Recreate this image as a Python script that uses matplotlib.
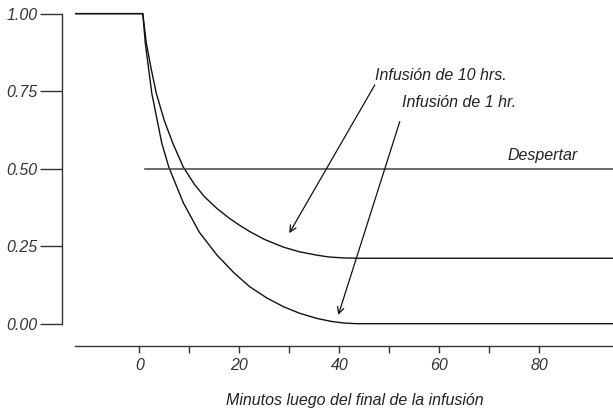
import matplotlib.pyplot as plt

plt.rcParams['font.family'] = ['Liberation Sans', 'DejaVu Sans']
plt.rcParams['font.style'] = 'italic'
plt.rcParams['font.size'] = 11.5

# Curves (minutes, relative concentration)
x_10h = [-12.7, 0.7, 1.4, 2.4, 3.4, 5.0, 6.7, 8.8, 11.0, 13.0, 15.5, 18.0, 20.0,
         22.1, 25.0, 28.8, 32.0, 35.5, 38.0, 41.0, 44.0, 95]
y_10h = [1.0, 1.0, 0.905, 0.82, 0.743, 0.655, 0.582, 0.505, 0.45, 0.41, 0.372,
         0.34, 0.318, 0.297, 0.272, 0.247, 0.232, 0.221, 0.215, 0.212, 0.211, 0.211]

x_1h = [-12.7, 0.7, 1.2, 2.5, 4.5, 5.9, 8.8, 12.0, 15.5, 19.0, 22.1, 25.5, 28.8,
        32.0, 35.5, 38.5, 41.0, 43.5, 95]
y_1h = [1.0, 1.0, 0.905, 0.743, 0.582, 0.505, 0.39, 0.295, 0.222, 0.163, 0.119,
        0.083, 0.055, 0.034, 0.017, 0.007, 0.002, 0.0, 0.0]

x_wake = [1.1, 95]
y_wake = [0.5, 0.5]

x_ticks = [0, 20, 40, 60, 80]
x_minor = [10, 30, 50, 70]
y_ticks = [0.0, 0.25, 0.5, 0.75, 1.0]
y_labels = ['0.00', '0.25', '0.50', '0.75', '1.00']

fig = plt.figure(figsize=(6.13, 4.13), dpi=100)
ax = fig.add_axes([62 / 613, 1 - 346 / 413, 1 - 62 / 613, 346 / 413])

ax.plot(x_10h, y_10h, color='#111111', lw=1.0)
ax.plot(x_1h, y_1h, color='#111111', lw=1.0)
ax.plot(x_wake, y_wake, color='#444444', lw=1.1)

ax.set_xlim(-15.46, 94.74)
ax.set_ylim(-0.072, 1.044)

for s in ['top', 'right']:
    ax.spines[s].set_visible(False)
ax.spines['left'].set_bounds(0, 1)
ax.spines['bottom'].set_bounds(-12.9, 94.74)
for s in ['left', 'bottom']:
    ax.spines[s].set_color('#333333')
    ax.spines[s].set_linewidth(1.0)

ax.set_yticks(y_ticks)
ax.set_yticklabels(y_labels)
ax.set_xticks(x_ticks)
ax.set_xticks(x_minor, minor=True)
ax.tick_params(axis='y', length=16, width=1.0, color='#333333', pad=1.5,
               labelcolor='#333333')
ax.tick_params(axis='x', which='both', length=5, width=1.0, color='#333333',
               pad=3.5, labelcolor='#333333')

ax.text(73.7, 0.528, 'Despertar', color='#222222')
ax.text(47.1, 0.802, 'Infusión de 10 hrs.', color='#222222', va='center')
ax.text(52.5, 0.712, 'Infusión de 1 hr.', color='#222222', va='center')

arrow = dict(arrowstyle='->', color='#111111', lw=0.9, shrinkA=0, shrinkB=0)
ax.annotate('', xy=(30.0, 0.292), xytext=(47.1, 0.770), arrowprops=arrow)
ax.annotate('', xy=(39.8, 0.028), xytext=(52.1, 0.652), arrowprops=arrow)

fig.text(355 / 613, 1 - 400 / 413, 'Minutos luego del final de la infusión',
         ha='center', va='center', color='#222222')

fig.savefig('out.png', dpi=100)
